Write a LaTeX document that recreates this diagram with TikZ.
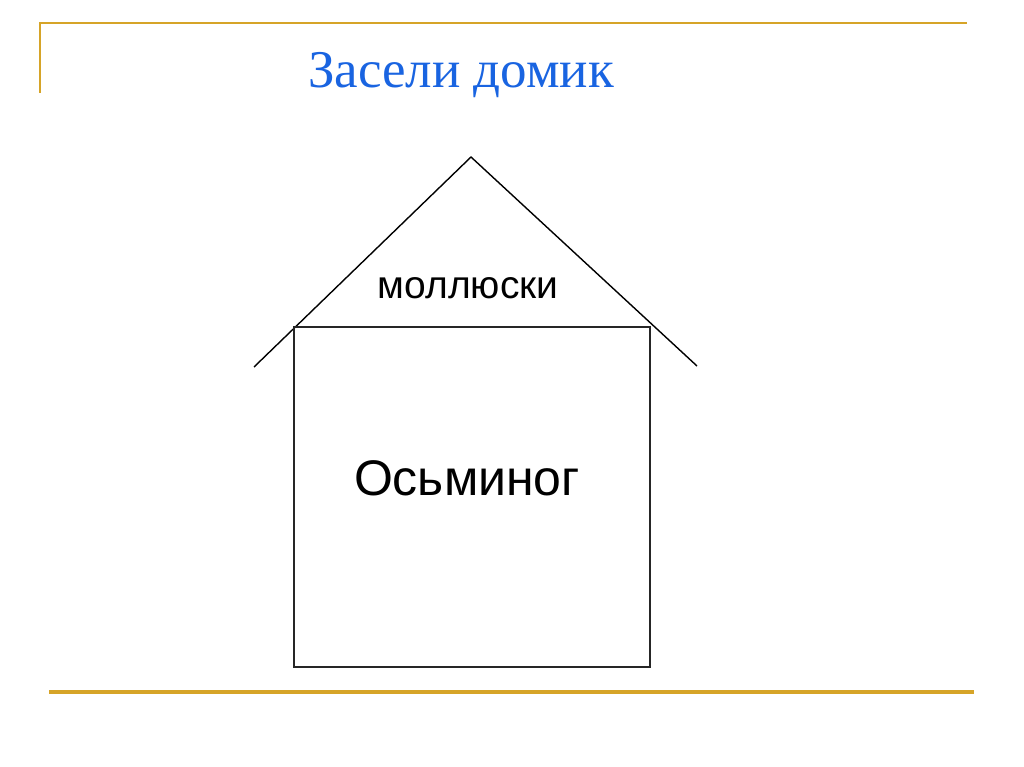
\documentclass[tikz,border=0pt]{standalone}
\usepackage{fontspec}
\setmainfont{Liberation Serif}
\setsansfont{Liberation Sans}
\definecolor{gold}{RGB}{214,164,40}
\definecolor{titleblue}{RGB}{25,100,225}
\begin{document}
\begin{tikzpicture}[x=1pt,y=-1pt,
  rule/.style={draw=gold,line width=2.4pt},
  roof/.style={draw=black,line width=1.4pt},
  wall/.style={draw=black!85,line width=1.6pt}]
\useasboundingbox[fill=white] (0,0) rectangle (1024,767);
% decorative gold rules
\coordinate (tl) at (40,23);
\coordinate (tr) at (966,23);
\coordinate (tb) at (40,92);
\coordinate (bl) at (49,692);
\coordinate (br) at (974,692);
\draw[rule,line cap=rect] (tb) -- (tl) -- (tr);
\draw[rule,line width=3.2pt] (bl) -- (br);
% title
\node[text=titleblue,font=\fontsize{53}{60}\selectfont,anchor=base] (title) at (461,88) {Засели домик};
% roof
\coordinate (apex) at (471,157);
\coordinate (rl) at (254,367);
\coordinate (rr) at (697,366);
\draw[roof] (rl) -- (apex) -- (rr);
% walls
\node[wall,minimum width=356pt,minimum height=340pt,inner sep=0pt,anchor=north west] (house) at (293,326) {};
% labels
\node[font=\sffamily\fontsize{39}{44}\selectfont,anchor=base] (roofl) at (468,298) {моллюски};
\node[font=\sffamily\fontsize{50}{56}\selectfont,anchor=base] (wall) at (467,495) {Осьминог};
\end{tikzpicture}
\end{document}
